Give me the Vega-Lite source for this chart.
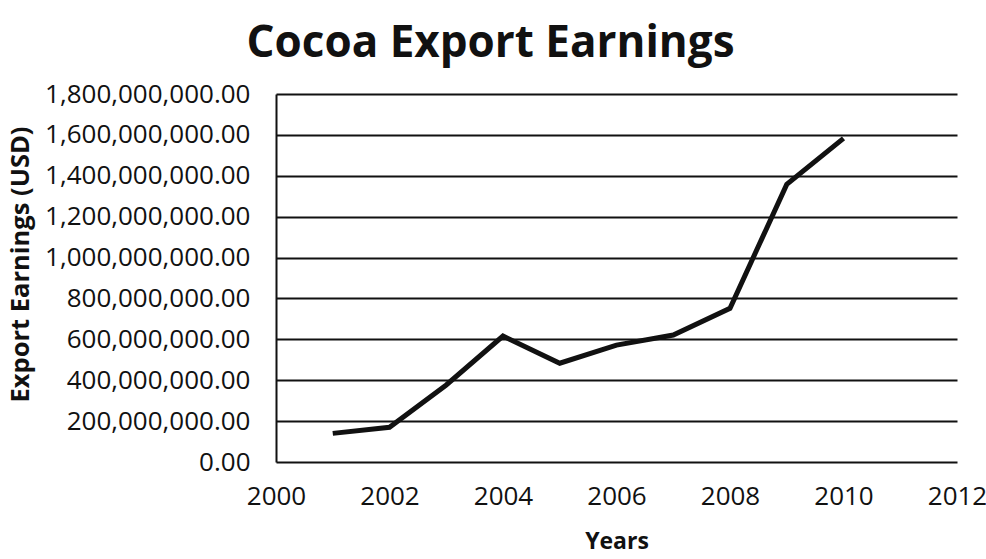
{
  "$schema": "https://vega.github.io/schema/vega-lite/v6.json",
  "width": 681,
  "height": 368,
  "autosize": {"type": "none"},
  "padding": {"left": 276, "top": 94, "right": 29, "bottom": 97},
  "background": "white",
  "title": {
    "text": "Cocoa Export Earnings",
    "font": "Open Sans",
    "fontSize": 44,
    "fontWeight": "bold",
    "color": "#111111",
    "anchor": "middle",
    "dx": -126,
    "offset": 15
  },
  "data": {
    "values": [
      {"year": 2001, "earnings": 140000000},
      {"year": 2002, "earnings": 170000000},
      {"year": 2003, "earnings": 377000000},
      {"year": 2004, "earnings": 616000000},
      {"year": 2005, "earnings": 483000000},
      {"year": 2006, "earnings": 572000000},
      {"year": 2007, "earnings": 621000000},
      {"year": 2008, "earnings": 752000000},
      {"year": 2009, "earnings": 1358000000},
      {"year": 2010, "earnings": 1583000000}
    ]
  },
  "config": {
    "view": {"stroke": null},
    "axis": {"labelFont": "Open Sans", "titleFont": "Open Sans", "labelColor": "#111111", "titleColor": "#111111", "labelLimit": 400}
  },
  "mark": {"type": "line", "color": "#111111", "strokeWidth": 5, "strokeJoin": "miter"},
  "encoding": {
    "x": {
      "field": "year",
      "type": "quantitative",
      "scale": {"domain": [2000, 2012], "nice": false, "zero": false},
      "axis": {
        "values": [2000, 2002, 2004, 2006, 2008, 2010, 2012],
        "format": "d",
        "grid": false,
        "domain": false,
        "ticks": false,
        "labelFontSize": 26,
        "labelPadding": 21,
        "labelFlush": false,
        "title": "Years",
        "titleFontSize": 23,
        "titleFontWeight": "bold",
        "titlePadding": 21
      }
    },
    "y": {
      "field": "earnings",
      "type": "quantitative",
      "scale": {"domain": [0, 1800000000], "nice": false},
      "axis": {
        "values": [0, 200000000, 400000000, 600000000, 800000000, 1000000000, 1200000000, 1400000000, 1600000000, 1800000000],
        "format": ",.2f",
        "grid": true,
        "gridColor": "#111111",
        "gridWidth": 2,
        "gridOpacity": 1,
        "domain": true,
        "domainColor": "#111111",
        "domainWidth": 2,
        "ticks": false,
        "labelFontSize": 26,
        "labelPadding": 26,
        "title": "Export Earnings (USD)",
        "titleFontSize": 25.5,
        "titleFontWeight": "bold",
        "titleX": -256,
        "titleY": 170,
        "titleAngle": -90,
        "titleAlign": "center",
        "titleBaseline": "middle"
      }
    }
  }
}
